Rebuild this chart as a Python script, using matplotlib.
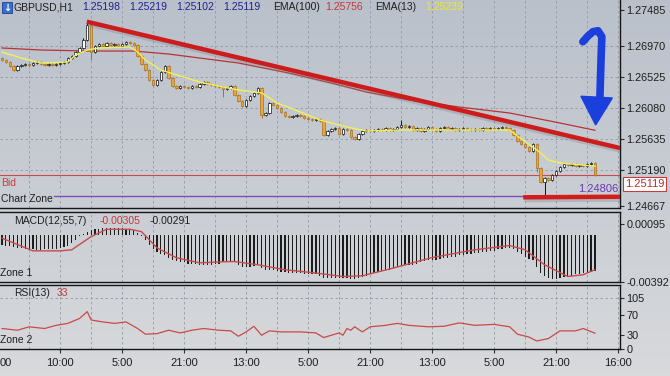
import numpy as np
import matplotlib
matplotlib.use("Agg")
import matplotlib.pyplot as plt
import matplotlib.patheffects as pe
from matplotlib.patches import Polygon, Rectangle

plt.rcParams["font.family"] = ["Liberation Sans", "DejaVu Sans"]

W, H = 670, 376

# ---- price data (H1 closes, bar 0 .. 153) ----
closes = [
    1.26766, 1.26737, 1.26680, 1.26622, 1.26680, 1.26694, 1.26709, 1.26694, 1.26723, 1.26737,
    1.26709, 1.26694, 1.26709, 1.26694, 1.26709, 1.26723, 1.26737, 1.26795, 1.26824, 1.26881,
    1.26939, 1.27054, 1.27269, 1.26881, 1.26967, 1.26996, 1.26967, 1.27011, 1.26982, 1.26996,
    1.26967, 1.26996, 1.27025, 1.27011, 1.26982, 1.26824, 1.26709, 1.26622, 1.26479, 1.26407,
    1.26479, 1.26594, 1.26680, 1.26507, 1.26392, 1.26364, 1.26392, 1.26378, 1.26364, 1.26392,
    1.26378, 1.26421, 1.26450, 1.26421, 1.26407, 1.26392, 1.26378, 1.26349, 1.26364, 1.26392,
    1.26263, 1.26177, 1.26105, 1.26191, 1.26249, 1.26292, 1.26364, 1.25975, 1.26004, 1.26148,
    1.26119, 1.26076, 1.26018, 1.25961, 1.25947, 1.25961, 1.25975, 1.25961, 1.25932, 1.25918,
    1.25903, 1.25918, 1.25889, 1.25688, 1.25745, 1.25774, 1.25788, 1.25702, 1.25774, 1.25760,
    1.25659, 1.25630, 1.25702, 1.25745, 1.25760, 1.25745, 1.25760, 1.25774, 1.25760, 1.25788,
    1.25760, 1.25774, 1.25803, 1.25832, 1.25803, 1.25817, 1.25760, 1.25788, 1.25745, 1.25774,
    1.25803, 1.25774, 1.25745, 1.25788, 1.25803, 1.25774, 1.25788, 1.25760, 1.25774, 1.25788,
    1.25774, 1.25760, 1.25774, 1.25760, 1.25788, 1.25774, 1.25788, 1.25774, 1.25788, 1.25803,
    1.25788, 1.25760, 1.25688, 1.25602, 1.25558, 1.25515, 1.25458, 1.25558, 1.25213, 1.25012,
    1.25070, 1.25041, 1.25113, 1.25170, 1.25228, 1.25271, 1.25256, 1.25271, 1.25242, 1.25256,
    1.25242, 1.25271, 1.25285, 1.25119,
]
first_open = 1.26795
# wicks that reach clearly beyond the body
wick_hi = {21: 1.27083, 22: 1.27341, 42: 1.26694, 103: 1.25903}
wick_lo = {23: 1.26766, 57: 1.26234, 67: 1.25932, 138: 1.25156, 140: 1.24811}

ema100_idx = [0, 10, 23, 34, 43, 51, 61, 74, 85, 94, 105, 118, 131, 144, 153]
ema100_val = [1.26939, 1.26910, 1.26895, 1.26895, 1.26852, 1.26795, 1.26723, 1.26579,
              1.26435, 1.26306, 1.26191, 1.26090, 1.26004, 1.25860, 1.25756]
ema13_idx = [0, 5, 10, 17, 19, 22, 25, 33, 35, 37, 41, 46, 51, 57, 61, 67, 71, 77, 82,
             89, 94, 103, 116, 131, 133, 137, 139, 141, 144, 153]
ema13_val = [1.26881, 1.26795, 1.26723, 1.26737, 1.26838, 1.26910, 1.26939, 1.26953,
             1.26881, 1.26766, 1.26622, 1.26536, 1.26450, 1.26378, 1.26335, 1.26292,
             1.26148, 1.26018, 1.25903, 1.25803, 1.25745, 1.25760, 1.25760, 1.25760,
             1.25673, 1.25515, 1.25429, 1.25328, 1.25285, 1.25239]

# ---- MACD(12,55,7) ----
macd_hist = [
    -0.0008, -0.0009, -0.00095, -0.001, -0.00105, -0.0011, -0.00115, -0.0012, -0.0012, -0.00122,
    -0.00122, -0.0012, -0.0012, -0.00118, -0.00115, -0.0011, -0.001, -0.0009, -0.0007, -0.0004,
    -0.0001, 0.0001, 0.0003, 0.0004, 0.0005, 0.00055, 0.0006, 0.0006, 0.0006, 0.0006,
    0.0006, 0.00058, 0.00055, 0.0005, 0.00045, 0.0002, -0.0001, -0.0004, -0.0008, -0.0012,
    -0.0014, -0.0016, -0.0017, -0.0019, -0.0021, -0.0022, -0.0023, -0.0023, -0.0024, -0.0024,
    -0.0024, -0.0025, -0.0025, -0.0025, -0.0025, -0.0024, -0.0024, -0.0023, -0.0022, -0.0022,
    -0.0023, -0.0025, -0.0027, -0.0027, -0.0027, -0.0026, -0.0025, -0.0028, -0.0029, -0.0029,
    -0.0029, -0.003, -0.0031, -0.0031, -0.0032, -0.0032, -0.0032, -0.0032, -0.0033, -0.0033,
    -0.0033, -0.0033, -0.0034, -0.0036, -0.0036, -0.0036, -0.0036, -0.0036, -0.0036, -0.0036,
    -0.0037, -0.0037, -0.0036, -0.0035, -0.0034, -0.0033, -0.0032, -0.0031, -0.003, -0.0029,
    -0.0029, -0.0028, -0.0027, -0.0026, -0.0025, -0.0025, -0.0025, -0.0024, -0.0023, -0.0022,
    -0.0021, -0.0021, -0.0021, -0.002, -0.0019, -0.0019, -0.0018, -0.0018, -0.0017, -0.0017,
    -0.0016, -0.0016, -0.0015, -0.0015, -0.0014, -0.0014, -0.0013, -0.0013, -0.0012, -0.0012,
    -0.0011, -0.0011, -0.0012, -0.0014, -0.0016, -0.0018, -0.002, -0.0021, -0.0027, -0.0032,
    -0.0034, -0.0036, -0.0037, -0.0037, -0.0036, -0.0035, -0.0034, -0.0034, -0.0033, -0.0033,
    -0.0032, -0.0032, -0.0031, -0.00305,
]
sig_idx = [0, 8, 15, 18, 23, 27, 33, 36, 40, 45, 51, 57, 60, 66, 73, 81, 88, 93, 101,
           111, 122, 131, 135, 140, 146, 150, 153]
sig_val = [-0.00025, -0.00132, -0.00132, -0.00123, -0.00012, 0.0005, 0.0005, 0.0003,
           -0.00107, -0.0019, -0.00233, -0.00224, -0.00222, -0.00249, -0.00291, -0.00319,
           -0.00348, -0.00342, -0.00277, -0.00188, -0.00123, -0.00087, -0.00123, -0.00249,
           -0.00348, -0.00333, -0.00291]

# ---- RSI(13) ----
rsi_idx = [0, 4, 7, 11, 14, 17, 20, 22, 23, 26, 29, 32, 35, 37, 40, 43, 46, 49, 52, 56,
           59, 61, 63, 65, 67, 69, 72, 77, 81, 83, 87, 88, 89, 90, 91, 93, 95, 99, 102, 105,
           110, 114, 118, 122, 127, 131, 133, 136, 138, 141, 144, 148, 150, 153]
rsi_val = [42.5, 39, 46, 42.5, 49, 53, 63, 77, 60, 56, 53, 56, 42.5, 31, 32, 39, 33.5, 39,
           42.5, 39, 37.7, 26.7, 35.6, 47, 28.8, 37.7, 35.6, 35.6, 33.5, 24, 33.5, 28.8,
           42.5, 39, 46, 35.6, 46, 49, 53, 49, 46, 47, 54, 49, 51, 46, 31, 25, 17, 22,
           37.7, 37.7, 42.5, 33]

price_ticks = [1.27485, 1.26970, 1.26525, 1.26080, 1.25635, 1.25190, 1.24667]
bid = 1.25119
zone_level = 1.24806
time_ticks = [15, 31, 47, 63, 79, 95, 111, 127, 143, 159]
time_labels = ["10:00", "5:00", "21:00", "13:00", "5:00", "21:00", "13:00", "5:00", "21:00", "16:00"]

# trend line drawn on the chart (bar, price)
trend_x = [21.9, 159.5]
trend_y = [1.27317, 1.25500]
support_x = [134.5, 159.5]
support_y = [1.24792, 1.24800]

TXT = "#1e1e1e"
GRID = "#939aa6"
RED = "#c84a4a"


def box(x0, y0, x1, y1):
    return [x0 / W, 1 - y1 / H, (x1 - x0) / W, (y1 - y0) / H]


def ftext(x, y, s, **kw):
    kw.setdefault("fontsize", 7.5)
    kw.setdefault("color", TXT)
    kw.setdefault("va", "center")
    fig.text(x / W, 1 - y / H, s, **kw)


fig = plt.figure(figsize=(W / 100, H / 100), dpi=100)

# background gradient
bg = fig.add_axes([0, 0, 1, 1], zorder=-10)
g = np.linspace(0, 1, 256)[:, None, None]
top = np.array([0.73, 0.755, 0.795])
bot = np.array([0.845, 0.852, 0.862])
bg.imshow(top + (bot - top) * g, aspect="auto", extent=[0, 1, 0, 1])
bg.axis("off")

ax_p = fig.add_axes(box(0, 0, 620, 208))
ax_m = fig.add_axes(box(0, 211.7, 620, 281.7))
ax_r = fig.add_axes(box(0, 284.5, 620, 349.3))

n = len(closes)
idx = np.arange(n)
opens = [first_open] + closes[:-1]

for ax in (ax_p, ax_m, ax_r):
    ax.set_facecolor("none")
    ax.set_xlim(-0.516, 159.48)
    ax.spines["left"].set_visible(False)
    for s in ("top", "bottom", "right"):
        ax.spines[s].set_color("#151515")
        ax.spines[s].set_linewidth(1.0)
    ax.yaxis.tick_right()
    ax.tick_params(axis="y", direction="out", length=3, width=0.8, color="#303030",
                   labelsize=7.8, labelcolor=TXT, pad=1.5)
    ax.tick_params(axis="x", bottom=False, labelbottom=False)
    for k in range(7, 160, 8):
        ax.axvline(k, color=GRID, lw=0.6, ls=(0, (3, 3)), zorder=0)
ax_p.spines["top"].set_visible(False)

# ---- price panel ----
ax_p.set_ylim(1.24638, 1.27629)
ax_p.set_yticks(price_ticks)
ax_p.set_yticklabels(["%.5f" % p for p in price_ticks])
for p in price_ticks[1:-1]:
    ax_p.axhline(p, color=GRID, lw=0.6, ls=(0, (3, 3)), zorder=0)

ax_p.plot(ema100_idx, ema100_val, color="#b83434", lw=0.9, zorder=2)

for i in idx:
    o, c = opens[i], closes[i]
    bull = c >= o
    fill = "white" if bull else "#eba53a"
    edge = "#111111" if bull else "#a8731c"
    hi = wick_hi.get(i, max(o, c) + 0.00014)
    lo = wick_lo.get(i, min(o, c) - 0.00014)
    ax_p.vlines(i, lo, hi, color=edge, lw=0.7, zorder=3)
    ax_p.bar(i, c - o, bottom=o, width=0.62, color=fill, edgecolor=edge, lw=0.5, zorder=4)

ax_p.plot(ema13_idx, ema13_val, color="#f2f058", lw=1.0, zorder=5)

shadow = [pe.SimpleLineShadow(offset=(1, -2), shadow_color="#7a7e86", alpha=0.3), pe.Normal()]
ax_p.plot(trend_x, trend_y, color="#cc1c1c", lw=3.2, solid_capstyle="butt",
          path_effects=shadow, zorder=6)
ax_p.plot(support_x, support_y, color="#d41c1c", lw=3.2, solid_capstyle="butt",
          path_effects=shadow, zorder=6)

ax_p.axhline(bid, color=RED, lw=0.8, zorder=2)
ax_p.axhline(zone_level, xmin=54 / 620, color="#7a4fb8", lw=1.0, zorder=2)

# hand drawn blue arrow
hook_x = [149.9, 151.2, 152.5, 153.8, 154.8, 154.6, 154.3]
hook_y = [1.27029, 1.27110, 1.27173, 1.27187, 1.27101, 1.26800, 1.26238]
ax_p.plot(hook_x, hook_y, color="#1b3fdc", lw=5.5, solid_capstyle="round",
          solid_joinstyle="round", zorder=7)
ax_p.add_patch(Polygon([(149.4, 1.26245), (157.5, 1.26220), (153.2, 1.25832)],
                       closed=True, color="#1b3fdc", zorder=7))

# ---- MACD panel ----
ax_m.set_ylim(-0.0039, 0.00198)
ax_m.set_yticks([0.00095, -0.00392])
ax_m.set_yticklabels(["0.00095", "-0.00392"])
ax_m.bar(idx, macd_hist, width=0.32, color="#1c1c1c", zorder=3)
ax_m.plot(sig_idx, sig_val, color=RED, lw=1.0, zorder=4)

# ---- RSI panel ----
ax_r.set_ylim(0, 132.5)
ax_r.set_yticks([105, 70, 30, 0])
ax_r.set_yticklabels(["105", "70", "30", "0"])
ax_r.axhline(105, color=GRID, lw=0.6, ls=(0, (3, 3)), zorder=0)
ax_r.plot(rsi_idx, rsi_val, color=RED, lw=0.9, zorder=3)
ax_r.set_xticks(time_ticks)
ax_r.set_xticklabels(time_labels)
ax_r.tick_params(axis="x", bottom=True, labelbottom=True, direction="out", length=3,
                 width=0.8, color="#303030", labelsize=8, labelcolor=TXT, pad=3)

# ---- texts ----
fig.patches.append(Rectangle((2 / W, 1 - 13 / H), 10 / W, 11 / H, transform=fig.transFigure,
                             facecolor="#3a6fd0", edgecolor="#1d3f90", lw=0.6))
ftext(7, 7.5, "\u2193", color="white", fontsize=7, ha="center", family="DejaVu Sans",
      weight="bold")
ftext(14, 7, "GBPUSD,H1", fontsize=7.5)
for x, s in [(82, "1.25198"), (129, "1.25219"), (176, "1.25102"), (223, "1.25119")]:
    ftext(x, 7, s, fontsize=7.5, color="#1e228c")
ftext(273, 7, "EMA(100)", fontsize=7.5)
ftext(325, 7, "1.25756", fontsize=7.5, color="#c23838")
ftext(375, 7, "EMA(13)", fontsize=7.5)
ftext(425, 7, "1.25239", fontsize=7.5, color="#ecea2a")

ftext(1, 183, "Bid", color="#c83c3c")
ftext(1, 199.5, "Chart Zone")
ftext(618, 189, "1.24806", color="#6a3cb0", fontsize=8, ha="right")
ftext(625, 184, "1.25119", color="#c02a2a", fontsize=8,
      bbox=dict(boxstyle="square,pad=0.15", facecolor="white", edgecolor="#c83c3c", lw=0.8))

ftext(14, 221, "MACD(12,55,7)")
ftext(100, 221, "-0.00305", color="#c23838")
ftext(150, 221, "-0.00291")
ftext(0, 273, "Zone 1")
ftext(14, 293, "RSI(13)")
ftext(57, 293, "33", color="#c23838")
ftext(0, 340, "Zone 2")
# first time label is only partly on screen in the terminal
ftext(0, 362.5, "00", fontsize=8, ha="left")

fig.savefig("out.png", dpi=100)
